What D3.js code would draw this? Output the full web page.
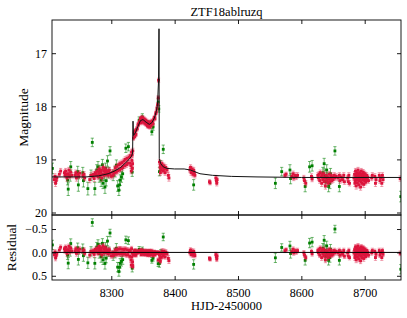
<!DOCTYPE html>
<html><head><meta charset="utf-8">
<script src="https://cdn.jsdelivr.net/npm/d3@7"></script>
<style>
body{margin:0;background:#fff}
svg{display:block}
text{font-family:"Liberation Serif","Times New Roman",serif;fill:#000}
</style>
</head><body>
<svg id="c" width="407" height="318"></svg>
<script>
// ---------- data ----------
const title = "ZTF18ablruzq";
const xLabel = "HJD-2450000";
const magLabel = "Magnitude";
const resLabel = "Residual";
const xTicks = [8300, 8400, 8500, 8600, 8700];
const magTicks = [17, 18, 19, 20];
const resTicks = [-0.5, 0.0, 0.5];

// model light curve (black line)
const modelT   = [8206.4, 8260, 8280, 8295, 8305, 8315, 8322, 8328, 8332, 8333.6, 8334.3, 8334.9, 8338, 8342, 8346, 8350, 8355, 8360, 8364, 8368, 8371, 8373, 8374.6, 8375.3, 8375.7, 8378, 8382, 8388, 8400, 8415, 8425, 8440, 8460, 8490, 8530, 8600, 8757.3];
const modelMag = [19.33, 19.33, 19.31, 19.27, 19.22, 19.15, 19.07, 19.00, 18.94, 18.88, 18.28, 18.55, 18.50, 18.38, 18.27, 18.25, 18.30, 18.34, 18.31, 18.22, 18.10, 17.96, 17.51, 16.54, 18.98, 19.08, 19.14, 19.17, 19.18, 19.18, 19.20, 19.27, 19.30, 19.32, 19.33, 19.34, 19.34];

// g band (green)
const gT   = [8207,8231,8232,8235,8236,8247,8248,8255,8256,8263,8268,8270,8274,8277,8279,8281,8282,8284,8286,8287,8289,8290,8291,8292,8294,8296,8298,8303,8306,8308,8310,8312,8313,8314,8316,8318,8323,8327,8333,8337,8344,8349,8358,8364,8366,8374,8375,8376,8378,8382,8430,8559,8569,8582,8583,8606,8613,8617,8634,8636,8637,8638,8640,8641,8643,8645,8646,8653,8660,8757];
const gMag = [19.17,19.39,19.56,19.31,19.14,19.23,19.48,19.25,19.40,19.55,19.30,18.68,19.55,19.20,19.14,19.33,19.23,19.39,19.10,19.45,19.29,19.52,19.17,19.40,19.03,19.25,18.84,19.30,19.23,19.11,19.50,19.58,19.48,19.39,19.33,19.27,18.79,18.76,19.24,18.51,18.26,18.20,18.33,18.48,18.39,17.92,18.05,19.23,19.10,18.81,19.48,19.45,19.23,19.20,19.36,19.51,19.14,19.12,19.25,19.08,19.30,19.42,19.20,19.35,19.51,19.45,19.27,18.84,19.51,19.70];
const gErr = [0.10,0.09,0.12,0.10,0.10,0.10,0.12,0.10,0.12,0.12,
              0.10,0.08,0.12,0.10,0.10,0.10,0.12,0.12,0.10,0.10,
              0.10,0.12,0.10,0.10,0.10,0.10,0.08,0.10,0.10,0.10,
              0.10,0.10,0.10,0.10,0.10,0.10,0.08,0.08,0.08,0.06,
              0.06,0.06,0.06,0.06,0.06,0.06,0.06,0.08,0.08,0.08,
              0.10,0.10,0.08,0.10,0.10,0.10,0.10,0.10,0.10,0.10,
              0.10,0.10,0.10,0.10,0.10,0.10,0.10,0.08,0.10,0.10];

// r band (red), rows of [HJD-2450000, mag, err]
const rQuiet1 = [[8210,19.38,.05],[8211,19.32,.05],[8212,19.45,.06],[8213,19.40,.05],[8214,19.35,.05],
  [8218,19.28,.05],[8220,19.22,.05],
  [8226,19.25,.05],[8227,19.30,.05],[8228,19.22,.05],[8229,19.28,.05],[8230,19.35,.06],[8232,19.27,.05],[8233,19.20,.05],[8234,19.32,.05],[8236,19.24,.05],[8238,19.30,.05],
  [8243,19.30,.05],[8244,19.25,.05],[8245,19.35,.06],[8247,19.28,.05],[8249,19.32,.05],[8250,19.26,.05],
  [8255,19.30,.05],[8257,19.28,.05],[8258,19.35,.05],[8266,19.38,.06],[8268,19.30,.05],
  [8271,19.32,.05],[8272,19.28,.05],[8273,19.36,.06],[8275,19.25,.05],[8276,19.30,.05],[8278,19.22,.05],[8279,19.33,.05],[8280,19.27,.05],[8281,19.18,.05],[8282,19.30,.05],[8283,19.24,.05],[8284,19.20,.05],[8285,19.35,.06],[8286,19.28,.05],[8287,19.15,.05],[8288,19.22,.05],[8289,19.30,.05],[8290,19.18,.05],[8291,19.25,.05],[8292,19.20,.05],[8293,19.28,.05],[8294,19.23,.05],[8295,19.30,.05],[8296,19.25,.05],[8297,19.20,.05],[8298,19.27,.05],[8300,19.32,.05],[8302,19.24,.05],[8303,19.30,.05]];
const rRise = [[8305,19.25,.05],[8306,19.16,.05],[8308,19.24,.05],[8309,19.13,.05],[8310,19.21,.05],[8312,19.10,.05],[8313,19.20,.05],[8314,19.08,.05],[8316,19.17,.05],[8317,19.06,.05],[8318,19.15,.05],[8320,19.03,.05],[8321,19.12,.05],[8322,19.00,.05],[8324,19.10,.05],[8325,18.98,.05],[8326,19.07,.05],[8328,18.96,.05],[8329,19.07,.05],[8330,18.93,.05],[8331,19.12,.05],[8331.5,19.22,.05],[8332,18.86,.05],[8332.5,19.02,.05],[8333,18.92,.05],[8333.3,19.17,.05],[8333.6,19.08,.05],[8334,18.84,.05],
  [8335,18.60,.04],[8336,18.50,.04],[8337,18.57,.04],[8338,18.46,.04],[8339,18.53,.04],[8340,18.43,.04],[8341,18.42,.04],[8342,18.35,.04],[8343,18.34,.04],[8344,18.30,.04],[8345,18.29,.04],[8346,18.23,.04],[8347,18.31,.04],[8348,18.21,.04],[8349,18.28,.04],[8350,18.22,.04],[8351,18.30,.04],[8352,18.24,.04],[8353,18.32,.04],[8354,18.26,.04],[8355,18.34,.04],[8356,18.28,.04],[8357,18.37,.04],[8358,18.30,.04],[8359,18.38,.04],[8360,18.31,.04],[8361,18.39,.04],[8362,18.30,.04],[8363,18.36,.04],[8364,18.28,.04],[8365,18.30,.04],[8366,18.33,.04],[8367,18.24,.04],[8368,18.21,.04],[8369,18.23,.04],[8370,18.14,.04],[8371,18.11,.04],[8372,18.04,.04],[8373,17.97,.04],[8374,17.84,.04],[8374.6,17.51,.04]];
const rDecline = [[8376,19.05,.05],[8377,19.15,.05],[8377.5,19.25,.05],[8378,19.10,.05],[8379,19.20,.05],[8380,19.08,.05],[8381,19.15,.05],[8382,19.22,.05],[8383,19.12,.05],[8384,19.18,.05],[8385,19.25,.05],[8386,19.15,.05],[8388,19.20,.05],[8390,19.30,.06],[8391,19.35,.06],
  [8424,19.20,.05],[8425,19.15,.05],[8426,19.25,.05],[8427,19.18,.05],[8428,19.22,.05],[8429,19.28,.05],[8430,19.20,.05],[8431,19.25,.05],[8432,19.30,.05],
  [8455,19.42,.04],[8456,19.44,.04],[8465,19.35,.05],[8466,19.40,.05],[8466.5,19.45,.05],[8467,19.38,.05]];
const rQuiet2 = [[8574,19.30,.04],[8576,19.28,.04],[8585,19.32,.05],[8587,19.27,.05],[8588,19.35,.05],[8590,19.30,.05],[8592,19.33,.05],[8594,19.30,.05],
  [8604,19.35,.05],[8605,19.40,.05],[8607,19.45,.05],[8616,19.32,.05],[8617,19.37,.05],
  [8626,19.30,.05],[8627,19.35,.05],[8628,19.28,.05],[8629,19.40,.05],[8630,19.25,.05],[8631,19.33,.05],[8632,19.45,.06],[8633,19.30,.05],[8634,19.38,.05],[8635,19.27,.05],[8636,19.42,.06],[8637,19.35,.05],[8638,19.50,.06],[8639,19.30,.05],[8640,19.40,.05],[8641,19.33,.05],[8642,19.45,.06],[8643,19.37,.05],[8644,19.28,.05],[8645,19.42,.05],[8646,19.35,.05],[8647,19.30,.05],[8648,19.40,.05],[8649,19.33,.05],[8650,19.38,.05],[8652,19.30,.05],[8653,19.35,.05],[8655,19.32,.05],
  [8658,19.35,.05],[8660,19.30,.05],[8661,19.40,.05],[8663,19.33,.05],[8665,19.38,.05],[8667,19.30,.05],[8668,19.42,.05],
  [8673,19.35,.05],[8674,19.42,.05],[8675,19.30,.05],[8676,19.45,.05],
  [8683,19.35,.05],[8684,19.28,.05],[8684.5,19.45,.06],[8685,19.40,.05],[8685.5,19.22,.05],[8686,19.32,.05],[8686.5,19.50,.06],[8687,19.38,.05],[8687.5,19.25,.05],[8688,19.30,.05],[8688.5,19.44,.05],[8689,19.35,.05],[8689.5,19.20,.05],[8690,19.28,.05],[8690.5,19.48,.06],[8691,19.33,.05],[8691.5,19.40,.05],[8692,19.25,.05],[8692.5,19.36,.05],[8693,19.30,.05],[8693.5,19.52,.06],[8694,19.42,.05],[8694.5,19.22,.05],[8695,19.35,.05],[8695.5,19.28,.05],[8696,19.45,.05],[8696.5,19.32,.05],[8697,19.38,.05],[8697.5,19.24,.05],[8698,19.30,.05],[8698.5,19.47,.06],[8699,19.36,.05],[8699.5,19.27,.05],[8700,19.40,.05],[8700.5,19.33,.05],[8701,19.29,.05],[8701.5,19.43,.05],[8702,19.35,.05],[8703,19.30,.05],[8704,19.38,.05],[8705,19.33,.05],[8706,19.40,.05],
  [8711,19.35,.05],[8712,19.30,.05],[8716,19.32,.05],[8717,19.45,.06],[8718,19.38,.05],[8723,19.30,.05],[8724,19.40,.05],[8725,19.35,.05],[8727,19.45,.06],[8728,19.30,.05],[8729,19.38,.05],
  [8756,19.36,.05]];

// ---------- layout ----------
const L = 52, R = 401, T = 20, MB = 215, RB = 280;
const gColor = "#008000", rColor = "#dc143c";

const svg = d3.select("#c");
const x  = d3.scaleLinear().domain([8206.4, 8757.3]).range([L, R]);
const yM = d3.scaleLinear().domain([16.375, 20.047]).range([T, MB]);
const yR = d3.scaleLinear().domain([-0.8, 0.59]).range([MB, RB]);

function modelAt(t) {
  const i = d3.bisectLeft(modelT, t);
  if (i <= 0) return modelMag[0];
  if (i >= modelT.length) return modelMag[modelMag.length - 1];
  const t0 = modelT[i-1], t1 = modelT[i];
  return modelMag[i-1] + (modelMag[i] - modelMag[i-1]) * (t - t0) / (t1 - t0);
}

const gData = gT.map((t, i) => ({t, m: gMag[i], e: gErr[i] || 0.1}));
const rData = [].concat(rQuiet1, rRise, rDecline, rQuiet2).map(d => ({t: d[0], m: d[1], e: d[2]}));
gData.forEach(d => d.r = d.m - modelAt(d.t));
rData.forEach(d => d.r = d.m - modelAt(d.t));

const defs = svg.append("defs");
defs.append("clipPath").attr("id", "cm").append("rect").attr("x", L).attr("y", T).attr("width", R - L).attr("height", MB - T);
defs.append("clipPath").attr("id", "cr").append("rect").attr("x", L).attr("y", MB).attr("width", R - L).attr("height", RB - MB);

function drawPoints(g, data, yScale, val, color, barOp, size) {
  const grp = g.append("g");
  const cap = 1.6;
  grp.selectAll("line.v").data(data).join("line")
    .attr("x1", d => x(d.t)).attr("x2", d => x(d.t))
    .attr("y1", d => yScale(val(d) - d.e)).attr("y2", d => yScale(val(d) + d.e))
    .attr("stroke", color).attr("stroke-opacity", barOp).attr("stroke-width", 1);
  ["-", "+"].forEach(s => {
    grp.selectAll("line.c" + (s === "-" ? "a" : "b")).data(data).join("line")
      .attr("x1", d => x(d.t) - cap).attr("x2", d => x(d.t) + cap)
      .attr("y1", d => yScale(val(d) + (s === "-" ? -d.e : d.e)))
      .attr("y2", d => yScale(val(d) + (s === "-" ? -d.e : d.e)))
      .attr("stroke", color).attr("stroke-opacity", barOp).attr("stroke-width", 1);
  });
  grp.selectAll("rect").data(data).join("rect")
    .attr("x", d => x(d.t) - size / 2).attr("y", d => yScale(val(d)) - size / 2)
    .attr("width", size).attr("height", size).attr("fill", color);
}

// main panel
const gm = svg.append("g").attr("clip-path", "url(#cm)");
drawPoints(gm, gData, yM, d => d.m, gColor, 0.55, 2.8);
drawPoints(gm, rData, yM, d => d.m, rColor, 0.4, 2.9);
gm.append("path")
  .datum(modelT.map((t, i) => [t, modelMag[i]]))
  .attr("d", d3.line().x(d => x(d[0])).y(d => yM(d[1])))
  .attr("fill", "none").attr("stroke", "#111").attr("stroke-width", 1);

// residual panel
const gr = svg.append("g").attr("clip-path", "url(#cr)");
drawPoints(gr, gData, yR, d => d.r, gColor, 0.55, 2.8);
drawPoints(gr, rData, yR, d => d.r, rColor, 0.4, 2.9);
gr.append("line").attr("x1", L).attr("x2", R).attr("y1", yR(0)).attr("y2", yR(0))
  .attr("stroke", "#000").attr("stroke-width", 1);

// axes
function styleAxis(sel) {
  sel.select(".domain").remove();
  sel.selectAll(".tick line").attr("stroke", "#000").attr("stroke-width", 0.9);
  sel.selectAll("text").attr("font-family", "'Liberation Serif', serif").attr("font-size", 12).attr("fill", "#000");
}
const noLab = () => "";
svg.append("g").attr("transform", `translate(${L},0)`)
  .call(d3.axisLeft(yM).tickValues(magTicks).tickSize(-4).tickSizeOuter(0).tickPadding(5).tickFormat(d3.format("d"))).call(styleAxis);
svg.append("g").attr("transform", `translate(${R},0)`)
  .call(d3.axisRight(yM).tickValues(magTicks).tickSize(-4).tickSizeOuter(0).tickFormat(noLab)).call(styleAxis);
svg.append("g").attr("transform", `translate(0,${T})`)
  .call(d3.axisTop(x).tickValues(xTicks).tickSize(-4).tickSizeOuter(0).tickFormat(noLab)).call(styleAxis);
svg.append("g").attr("transform", `translate(0,${MB})`)
  .call(d3.axisBottom(x).tickValues(xTicks).tickSize(-4).tickSizeOuter(0).tickFormat(noLab)).call(styleAxis);
svg.append("g").attr("transform", `translate(0,${MB})`)
  .call(d3.axisTop(x).tickValues(xTicks).tickSize(-4).tickSizeOuter(0).tickFormat(noLab)).call(styleAxis);
svg.append("g").attr("transform", `translate(${L},0)`)
  .call(d3.axisLeft(yR).tickValues(resTicks).tickSize(-4).tickSizeOuter(0).tickPadding(5).tickFormat(d3.format(".1f"))).call(styleAxis);
svg.append("g").attr("transform", `translate(${R},0)`)
  .call(d3.axisRight(yR).tickValues(resTicks).tickSize(-4).tickSizeOuter(0).tickFormat(noLab)).call(styleAxis);
svg.append("g").attr("transform", `translate(0,${RB})`)
  .call(d3.axisBottom(x).tickValues(xTicks).tickSize(-4).tickSizeOuter(0).tickPadding(8).tickFormat(d3.format("d"))).call(styleAxis);

// frames
svg.append("rect").attr("x", L).attr("y", T).attr("width", R - L).attr("height", MB - T)
  .attr("fill", "none").attr("stroke", "#000").attr("stroke-width", 0.9);
svg.append("rect").attr("x", L).attr("y", MB).attr("width", R - L).attr("height", RB - MB)
  .attr("fill", "none").attr("stroke", "#000").attr("stroke-width", 0.9);

// labels
svg.append("text").attr("x", (L + R) / 2).attr("y", 16).attr("text-anchor", "middle")
  .attr("font-size", 12.5).text(title);
svg.append("text").attr("x", (L + R) / 2).attr("y", 310).attr("text-anchor", "middle")
  .attr("font-size", 12.5).text(xLabel);
svg.append("text").attr("transform", `translate(28,${(T + MB) / 2}) rotate(-90)`).attr("text-anchor", "middle")
  .attr("font-size", 13.5).text(magLabel);
svg.append("text").attr("transform", `translate(16,${(MB + RB) / 2}) rotate(-90)`).attr("text-anchor", "middle")
  .attr("font-size", 13.5).text(resLabel);
</script>
</body></html>
